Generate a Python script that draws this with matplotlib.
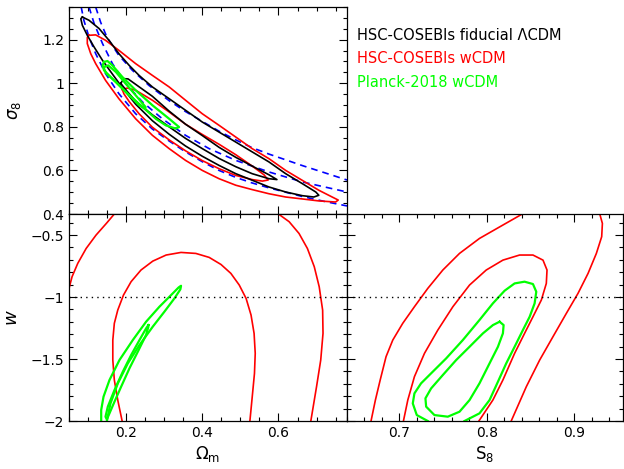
import matplotlib
matplotlib.use("Agg")
import matplotlib.pyplot as plt
import numpy as np

plt.rcParams['font.family'] = 'DejaVu Sans'

## contour outlines, (x, y) pairs
# Omega_m - sigma_8 panel
lcdm_outer = [(0.085, 1.304), (0.1025, 1.289), (0.129, 1.251), (0.155, 1.197), (0.181, 1.136), (0.208, 1.082),
              (0.234, 1.036), (0.269, 0.983), (0.313, 0.929), (0.356, 0.876), (0.40, 0.822), (0.444, 0.776),
              (0.488, 0.730), (0.531, 0.685), (0.575, 0.639), (0.619, 0.585), (0.663, 0.539), (0.698, 0.501),
              (0.706, 0.486), (0.693, 0.478), (0.663, 0.484), (0.619, 0.501), (0.575, 0.524), (0.531, 0.555),
              (0.488, 0.585), (0.444, 0.623), (0.40, 0.665), (0.356, 0.712), (0.313, 0.766), (0.269, 0.828),
              (0.225, 0.904), (0.19, 0.98), (0.164, 1.042), (0.138, 1.105), (0.116, 1.166), (0.098, 1.22),
              (0.085, 1.266), (0.081, 1.296), (0.085, 1.304)]
lcdm_inner = [(0.186, 1.0), (0.194, 1.021), (0.205, 1.02), (0.225, 0.995), (0.269, 0.94), (0.313, 0.872),
              (0.356, 0.812), (0.40, 0.76), (0.444, 0.706), (0.488, 0.66), (0.531, 0.62), (0.575, 0.58),
              (0.596, 0.558), (0.575, 0.562), (0.531, 0.585), (0.488, 0.617), (0.444, 0.655), (0.40, 0.700),
              (0.356, 0.747), (0.313, 0.800), (0.269, 0.855), (0.225, 0.918), (0.203, 0.962), (0.19, 0.99),
              (0.186, 1.0)]
wcdm_outer = [(0.1025, 1.22), (0.12, 1.222), (0.146, 1.197), (0.181, 1.151), (0.225, 1.09), (0.269, 1.036),
              (0.313, 0.983), (0.356, 0.922), (0.40, 0.86), (0.444, 0.807), (0.488, 0.753), (0.531, 0.70),
              (0.575, 0.654), (0.619, 0.60), (0.663, 0.554), (0.706, 0.509), (0.741, 0.478), (0.757, 0.464),
              (0.75, 0.455), (0.706, 0.46), (0.663, 0.469), (0.619, 0.478), (0.575, 0.493), (0.531, 0.512),
              (0.488, 0.532), (0.444, 0.562), (0.40, 0.60), (0.356, 0.646), (0.313, 0.70), (0.269, 0.761),
              (0.225, 0.837), (0.181, 0.929), (0.146, 1.013), (0.12, 1.09), (0.107, 1.136), (0.098, 1.182),
              (0.098, 1.21), (0.1025, 1.22)]
wcdm_inner = [(0.19, 0.971), (0.203, 0.978), (0.225, 0.968), (0.269, 0.922), (0.313, 0.868), (0.356, 0.812),
              (0.40, 0.765), (0.444, 0.72), (0.488, 0.672), (0.531, 0.62), (0.562, 0.58), (0.573, 0.556),
              (0.558, 0.551), (0.531, 0.558), (0.488, 0.577), (0.444, 0.608), (0.40, 0.645), (0.356, 0.69),
              (0.313, 0.74), (0.269, 0.798), (0.234, 0.86), (0.208, 0.916), (0.194, 0.952), (0.19, 0.971)]
planck_outer = [(0.142, 1.098), (0.151, 1.102), (0.164, 1.082), (0.19, 1.029), (0.225, 0.968), (0.269, 0.899),
                (0.313, 0.837), (0.339, 0.799), (0.33, 0.792), (0.304, 0.807), (0.278, 0.837), (0.243, 0.891),
                (0.199, 0.96), (0.164, 1.021), (0.142, 1.059), (0.138, 1.082), (0.142, 1.098)]
planck_inner = [(0.142, 1.075), (0.153, 1.082), (0.173, 1.052), (0.199, 0.998), (0.225, 0.945), (0.251, 0.891),
                (0.25, 0.883), (0.234, 0.899), (0.208, 0.945), (0.173, 1.006), (0.148, 1.044), (0.142, 1.067),
                (0.142, 1.075)]
# S8-like degeneracy lines (blue dashed)
s8_line_top = [(0.12, 1.35), (0.133, 1.28), (0.15, 1.21), (0.18, 1.13), (0.216, 1.06), (0.26, 0.99),
               (0.313, 0.92), (0.356, 0.87), (0.40, 0.825), (0.444, 0.78), (0.488, 0.74), (0.53, 0.705),
               (0.575, 0.675), (0.62, 0.648), (0.663, 0.622), (0.72, 0.59), (0.78, 0.556)]
s8_line_mid = [(0.1025, 1.35), (0.116, 1.274), (0.138, 1.182), (0.164, 1.09), (0.199, 0.998), (0.243, 0.914),
               (0.295, 0.837), (0.356, 0.761), (0.418, 0.70), (0.488, 0.646), (0.575, 0.593), (0.663, 0.547),
               (0.78, 0.501)]
s8_line_low = [(0.082, 1.35), (0.089, 1.289), (0.1025, 1.212), (0.12, 1.136), (0.146, 1.044), (0.181, 0.952),
               (0.225, 0.86), (0.269, 0.79), (0.313, 0.735), (0.356, 0.685), (0.40, 0.64), (0.444, 0.60),
               (0.488, 0.568), (0.53, 0.543), (0.575, 0.52), (0.663, 0.48), (0.72, 0.458), (0.78, 0.437)]

# Omega_m - w panel
om_w_red_outer_left = [(0.169, -0.33), (0.148, -0.406), (0.121, -0.5), (0.095, -0.608), (0.073, -0.728),
                       (0.058, -0.836), (0.05, -0.93)]
om_w_red_outer_right = [(0.60, -0.33), (0.628, -0.392), (0.654, -0.487), (0.676, -0.608), (0.694, -0.755),
                        (0.707, -0.917), (0.716, -1.105), (0.717, -1.293), (0.711, -1.508), (0.70, -1.723),
                        (0.685, -2.0)]
om_w_red_inner = [(0.1895, -2.0), (0.178, -1.831), (0.169, -1.669), (0.165, -1.508), (0.165, -1.347),
                  (0.169, -1.212), (0.178, -1.105), (0.193, -0.984), (0.213, -0.876), (0.239, -0.782),
                  (0.27, -0.71), (0.305, -0.661), (0.344, -0.64), (0.383, -0.648), (0.418, -0.68),
                  (0.449, -0.737), (0.475, -0.809), (0.497, -0.903), (0.515, -1.011), (0.528, -1.145),
                  (0.536, -1.293), (0.539, -1.454), (0.537, -1.616), (0.532, -1.777), (0.525, -2.0)]
om_w_green_outer = [(0.1345, -2.0), (0.1345, -1.911), (0.1406, -1.804), (0.1563, -1.669), (0.1825, -1.508),
                    (0.2175, -1.347), (0.2524, -1.199), (0.2874, -1.078), (0.318, -0.984), (0.338, -0.922),
                    (0.3442, -0.909), (0.3424, -0.938), (0.3267, -1.011), (0.3005, -1.118), (0.2699, -1.239),
                    (0.235, -1.387), (0.2044, -1.535), (0.1782, -1.696), (0.1589, -1.858), (0.1493, -2.0)]
om_w_green_inner = [(0.2585, -1.226), (0.2524, -1.253), (0.235, -1.347), (0.2131, -1.468), (0.1913, -1.602),
                    (0.1694, -1.75), (0.1519, -1.884), (0.1458, -1.965), (0.1493, -1.987), (0.1563, -1.938),
                    (0.1694, -1.844), (0.1869, -1.723), (0.2087, -1.575), (0.2306, -1.441), (0.2524, -1.306),
                    (0.2585, -1.239), (0.2585, -1.226)]

# S8 - w panel
s8_w_red_outer_left = [(0.6675, -2.0), (0.6725, -1.831), (0.678, -1.669), (0.6847, -1.481), (0.6924, -1.347),
                       (0.7038, -1.212), (0.7172, -1.078), (0.7325, -0.93), (0.7497, -0.782), (0.7688, -0.648),
                       (0.7917, -0.527), (0.8185, -0.419), (0.8407, -0.33)]
s8_w_red_outer_right = [(0.9294, -0.33), (0.9324, -0.406), (0.9316, -0.513), (0.9255, -0.648), (0.916, -0.809),
                        (0.9045, -0.97), (0.8911, -1.132), (0.8758, -1.32), (0.8606, -1.508), (0.8453, -1.723),
                        (0.828, -2.0)]
s8_w_red_inner = [(0.7046, -2.0), (0.7096, -1.831), (0.7172, -1.642), (0.7287, -1.454), (0.744, -1.266),
                  (0.7612, -1.078), (0.7803, -0.903), (0.7994, -0.782), (0.8185, -0.702), (0.8376, -0.661),
                  (0.8529, -0.661), (0.8644, -0.702), (0.869, -0.782), (0.8682, -0.89), (0.8625, -1.024),
                  (0.8529, -1.159), (0.8433, -1.293), (0.8319, -1.454), (0.8185, -1.669), (0.807, -1.831),
                  (0.791, -2.0)]
s8_w_green_outer = [(0.7325, -2.0), (0.7199, -1.952), (0.7153, -1.858), (0.7172, -1.777), (0.7248, -1.696),
                    (0.7382, -1.602), (0.7535, -1.495), (0.7726, -1.347), (0.7917, -1.185), (0.807, -1.051),
                    (0.8204, -0.949), (0.8319, -0.89), (0.8433, -0.876), (0.8529, -0.895), (0.8567, -0.957),
                    (0.8548, -1.051), (0.8491, -1.159), (0.8414, -1.266), (0.8319, -1.401), (0.8223, -1.535),
                    (0.8128, -1.683), (0.8032, -1.831), (0.7917, -1.938), (0.7745, -2.0)]
s8_w_green_inner = [(0.8147, -1.199), (0.8193, -1.226), (0.8185, -1.293), (0.8128, -1.401), (0.8032, -1.535),
                    (0.7917, -1.696), (0.7803, -1.831), (0.7688, -1.925), (0.7554, -1.965), (0.7401, -1.952),
                    (0.7306, -1.884), (0.7298, -1.817), (0.7363, -1.737), (0.7497, -1.629), (0.765, -1.508),
                    (0.7803, -1.401), (0.7956, -1.293), (0.8071, -1.226), (0.8147, -1.199)]

legend_labels = ['HSC-COSEBIs fiducial \u039bCDM', 'HSC-COSEBIs wCDM', 'Planck-2018 wCDM']
legend_colors = ['black', '#ff0000', '#00ff00']

om_lim = (0.05, 0.78)
s8_lim = (0.64, 0.956)
sig_lim = (0.4, 1.35)
w_lim = (-2.0, -0.33)

RED = '#ff0000'
GREEN = '#00ff00'
BLUE = '#0000ff'
LW = 1.2


def line(ax, pts, **kw):
    a = np.array(pts)
    ax.plot(a[:, 0], a[:, 1], solid_joinstyle='round', **kw)


def style(ax):
    ax.tick_params(which='both', direction='in', top=True, right=True, labelsize=10)
    ax.tick_params(which='major', length=6, width=0.8)
    ax.tick_params(which='minor', length=3, width=0.8)
    for s in ax.spines.values():
        s.set_linewidth(0.9)


fig = plt.figure(figsize=(6.24, 4.69), dpi=100)
ax1 = fig.add_axes([0.1106, 0.5437, 0.4455, 0.4414])
ax2 = fig.add_axes([0.1106, 0.1023, 0.4455, 0.4414])
ax3 = fig.add_axes([0.5561, 0.1023, 0.4423, 0.4414])

# top: Omega_m vs sigma_8
for b in [s8_line_top, s8_line_mid, s8_line_low]:
    line(ax1, b, color=BLUE, lw=LW, ls=(0, (4, 3)))
line(ax1, wcdm_outer, color=RED, lw=LW)
line(ax1, wcdm_inner, color=RED, lw=LW)
line(ax1, lcdm_outer, color='black', lw=LW)
line(ax1, lcdm_inner, color='black', lw=LW)
line(ax1, planck_outer, color=GREEN, lw=LW + 0.4)
line(ax1, planck_inner, color=GREEN, lw=LW + 0.4)
ax1.set_xlim(om_lim)
ax1.set_ylim(sig_lim)
ax1.set_xticks([0.2, 0.4, 0.6])
ax1.set_xticks(np.arange(0.05, 0.78, 0.05), minor=True)
ax1.set_xticklabels([])
ax1.set_yticks([0.4, 0.6, 0.8, 1.0, 1.2])
ax1.set_yticklabels(['0.4', '0.6', '0.8', '1', '1.2'])
ax1.set_yticks(np.arange(0.4, 1.36, 0.05), minor=True)
ax1.set_ylabel(r'$\sigma_8$', fontsize=12, labelpad=14)
style(ax1)

# bottom left: Omega_m vs w
for seg in [om_w_red_outer_left, om_w_red_outer_right, om_w_red_inner]:
    line(ax2, seg, color=RED, lw=LW)
line(ax2, om_w_green_outer, color=GREEN, lw=LW + 0.4)
line(ax2, om_w_green_inner, color=GREEN, lw=LW + 0.4)
ax2.axhline(-1, color='black', lw=1.0, ls=(0, (1, 3)))
ax2.set_xlim(om_lim)
ax2.set_ylim(w_lim)
ax2.set_xticks([0.2, 0.4, 0.6])
ax2.set_xticklabels(['0.2', '0.4', '0.6'])
ax2.set_xticks(np.arange(0.05, 0.78, 0.05), minor=True)
ax2.set_yticks([-2, -1.5, -1, -0.5])
ax2.set_yticklabels(['\u22122', '\u22121.5', '\u22121', '\u22120.5'])
ax2.set_yticks(np.arange(-2, -0.32, 0.1), minor=True)
ax2.set_xlabel(r'$\Omega_{\rm m}$', fontsize=12, labelpad=3)
ax2.set_ylabel(r'$w$', fontsize=13, labelpad=7)
style(ax2)

# bottom right: S8 vs w
for seg in [s8_w_red_outer_left, s8_w_red_outer_right, s8_w_red_inner]:
    line(ax3, seg, color=RED, lw=LW)
line(ax3, s8_w_green_outer, color=GREEN, lw=LW + 0.4)
line(ax3, s8_w_green_inner, color=GREEN, lw=LW + 0.4)
ax3.axhline(-1, color='black', lw=1.0, ls=(0, (1, 3)))
ax3.set_xlim(s8_lim)
ax3.set_ylim(w_lim)
ax3.set_xticks([0.7, 0.8, 0.9])
ax3.set_xticklabels(['0.7', '0.8', '0.9'])
ax3.set_xticks(np.arange(0.64, 0.96, 0.02), minor=True)
ax3.set_yticks([-2, -1.5, -1, -0.5])
ax3.set_yticklabels([])
ax3.set_yticks(np.arange(-2, -0.32, 0.1), minor=True)
ax3.set_xlabel(r'S$_8$', fontsize=12, labelpad=3)
style(ax3)

# legend text in the empty corner
for i, (lab, col) in enumerate(zip(legend_labels, legend_colors)):
    fig.text(0.572, 0.925 - i * 0.05, lab, color=col, fontsize=10.5, va='center', ha='left')

fig.savefig('out.png', dpi=100)
